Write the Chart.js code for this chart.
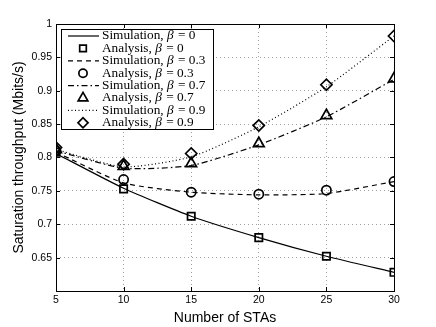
<!DOCTYPE html>
<html>
<head>
<meta charset="utf-8">
<script src="https://cdn.jsdelivr.net/npm/chart.js@4/dist/chart.umd.min.js"></script>
<style>
  html, body { margin: 0; padding: 0; background: #fff; }
  #wrap { width: 436px; height: 327px; }
</style>
</head>
<body>
<div id="wrap"><canvas id="chart"></canvas></div>
<script>
// data
const stas = [5, 10, 15, 20, 25, 30];
const simB0 = [0.806, 0.754, 0.712, 0.680, 0.652, 0.628];
const anaB0 = [0.808, 0.753, 0.712, 0.680, 0.652, 0.628];
const simB3 = [0.808, 0.762, 0.748, 0.744, 0.746, 0.764];
const anaB3 = [0.810, 0.767, 0.748, 0.745, 0.751, 0.764];
const simB7 = [0.810, 0.784, 0.788, 0.819, 0.861, 0.917];
const anaB7 = [0.812, 0.787, 0.791, 0.821, 0.863, 0.918];
const simB9 = [0.812, 0.786, 0.801, 0.846, 0.906, 0.982];
const anaB9 = [0.815, 0.790, 0.806, 0.848, 0.909, 0.982];
const xTicks = [5, 10, 15, 20, 25, 30];
const yTicks = [0.65, 0.7, 0.75, 0.8, 0.85, 0.9, 0.95, 1];

const DASH = [5, 4];
const DASHDOT = [6, 3, 1.5, 3];
const DOT = [1, 2.5];

function pts(ys) { return stas.map((x, i) => ({ x: x, y: ys[i] })); }

function simLine(label, ys, dash) {
  return {
    label: label, data: pts(ys), showLine: true, borderColor: '#000', borderWidth: 1.2,
    borderDash: dash, pointRadius: 0, fill: false, tension: 0.2
  };
}
function anaMarks(label, ys, style, r) {
  return {
    label: label, data: pts(ys), showLine: false, pointStyle: style,
    pointRadius: r, pointBorderWidth: 1.7, pointBorderColor: '#000',
    pointBackgroundColor: 'rgba(0,0,0,0)'
  };
}

const datasets = [
  simLine('Simulation, β = 0', simB0, []),
  anaMarks('Analysis, β = 0', anaB0, 'rect', 5.2),
  simLine('Simulation, β = 0.3', simB3, DASH),
  anaMarks('Analysis, β = 0.3', anaB3, 'circle', 4.6),
  simLine('Simulation, β = 0.7', simB7, DASHDOT),
  anaMarks('Analysis, β = 0.7', anaB7, 'triangle', 6.2),
  simLine('Simulation, β = 0.9', simB9, DOT),
  anaMarks('Analysis, β = 0.9', anaB9, 'rectRot', 5.6)
];

// frame, inward ticks and the matlab-like legend box
const decor = {
  id: 'decor',
  afterDraw(chart) {
    const ctx = chart.ctx, a = chart.chartArea;
    const xs = chart.scales.x, ys = chart.scales.y;
    ctx.save();
    ctx.strokeStyle = '#000';
    ctx.lineWidth = 1;
    ctx.setLineDash([]);
    ctx.strokeRect(Math.round(a.left) + 0.5, Math.round(a.top) + 0.5,
      Math.round(a.right - a.left), Math.round(a.bottom - a.top));
    ctx.beginPath();
    xTicks.forEach(v => {
      const px = Math.round(xs.getPixelForValue(v)) + 0.5;
      ctx.moveTo(px, a.bottom); ctx.lineTo(px, a.bottom - 4);
      ctx.moveTo(px, a.top); ctx.lineTo(px, a.top + 4);
    });
    yTicks.forEach(v => {
      const py = Math.round(ys.getPixelForValue(v)) + 0.5;
      ctx.moveTo(a.left, py); ctx.lineTo(a.left + 4, py);
      ctx.moveTo(a.right, py); ctx.lineTo(a.right - 4, py);
    });
    ctx.stroke();

    // legend
    const bx = 61, by = 29, bw = 152, bh = 100, row = 12.4;
    ctx.fillStyle = '#fff';
    ctx.fillRect(bx, by, bw, bh);
    ctx.strokeRect(bx + 0.5, by + 0.5, bw, bh);
    const dashes = [[], DASH, DASHDOT, DOT];
    ctx.textBaseline = 'middle';
    const f = '13.3px "Liberation Serif", serif';
    datasets.forEach((ds, i) => {
      const cy = by + 7 + i * row;
      if (i % 2 === 0) {
        ctx.setLineDash(dashes[i / 2]);
        ctx.lineWidth = 1.2;
        ctx.beginPath();
        ctx.moveTo(68, cy); ctx.lineTo(99, cy);
        ctx.stroke();
        ctx.setLineDash([]);
      } else {
        ctx.lineWidth = 1.7;
        ctx.fillStyle = 'rgba(0,0,0,0)';
        Chart.helpers.drawPoint(ctx, {
          pointStyle: ds.pointStyle, radius: ds.pointRadius * 0.9, rotation: 0, borderWidth: 1.7
        }, 83, cy);
      }
      const parts = ds.label.split('β');
      ctx.fillStyle = '#000';
      ctx.font = f;
      let x = 102;
      ctx.fillText(parts[0], x, cy);
      x += ctx.measureText(parts[0]).width;
      ctx.font = 'italic ' + f;
      ctx.fillText('β', x, cy);
      x += ctx.measureText('β').width + 1;
      ctx.font = f;
      ctx.fillText(parts[1], x, cy);
    });
    ctx.restore();
  }
};

new Chart(document.getElementById('chart'), {
  type: 'scatter',
  data: { datasets: datasets },
  options: {
    responsive: true,
    maintainAspectRatio: false,
    animation: false,
    layout: { padding: { left: 0, top: 24, right: 42, bottom: 0 } },
    plugins: { legend: { display: false }, tooltip: { enabled: false } },
    scales: {
      x: {
        type: 'linear', min: 5, max: 30,
        afterBuildTicks: s => { s.ticks = xTicks.map(v => ({ value: v })); },
        afterFit: s => { s.height = 36; },
        ticks: { color: '#000', font: { family: '"Liberation Sans", Arial', size: 10.5 }, padding: 3, maxRotation: 0 },
        grid: { color: '#a0a0a0', lineWidth: 1, drawTicks: false },
        border: { display: false, dash: [1, 3] },
        title: { display: true, text: 'Number of STAs', color: '#000',
          font: { family: '"Liberation Sans", Arial', size: 14 }, padding: { top: 1, bottom: 0 } }
      },
      y: {
        type: 'linear', min: 0.6, max: 1,
        afterBuildTicks: s => { s.ticks = yTicks.map(v => ({ value: v })); },
        afterFit: s => { s.width = 56; },
        ticks: { color: '#000', font: { family: '"Liberation Sans", Arial', size: 10.5 }, padding: 4,
          callback: v => String(Math.round(v * 100) / 100) },
        grid: { color: '#a0a0a0', lineWidth: 1, drawTicks: false },
        border: { display: false, dash: [1, 3] },
        title: { display: true, text: 'Saturation throughput (Mbits/s)', color: '#000',
          font: { family: '"Liberation Sans", Arial', size: 14 }, padding: { top: 11, bottom: 0 } }
      }
    }
  },
  plugins: [decor]
});
</script>
</body>
</html>
